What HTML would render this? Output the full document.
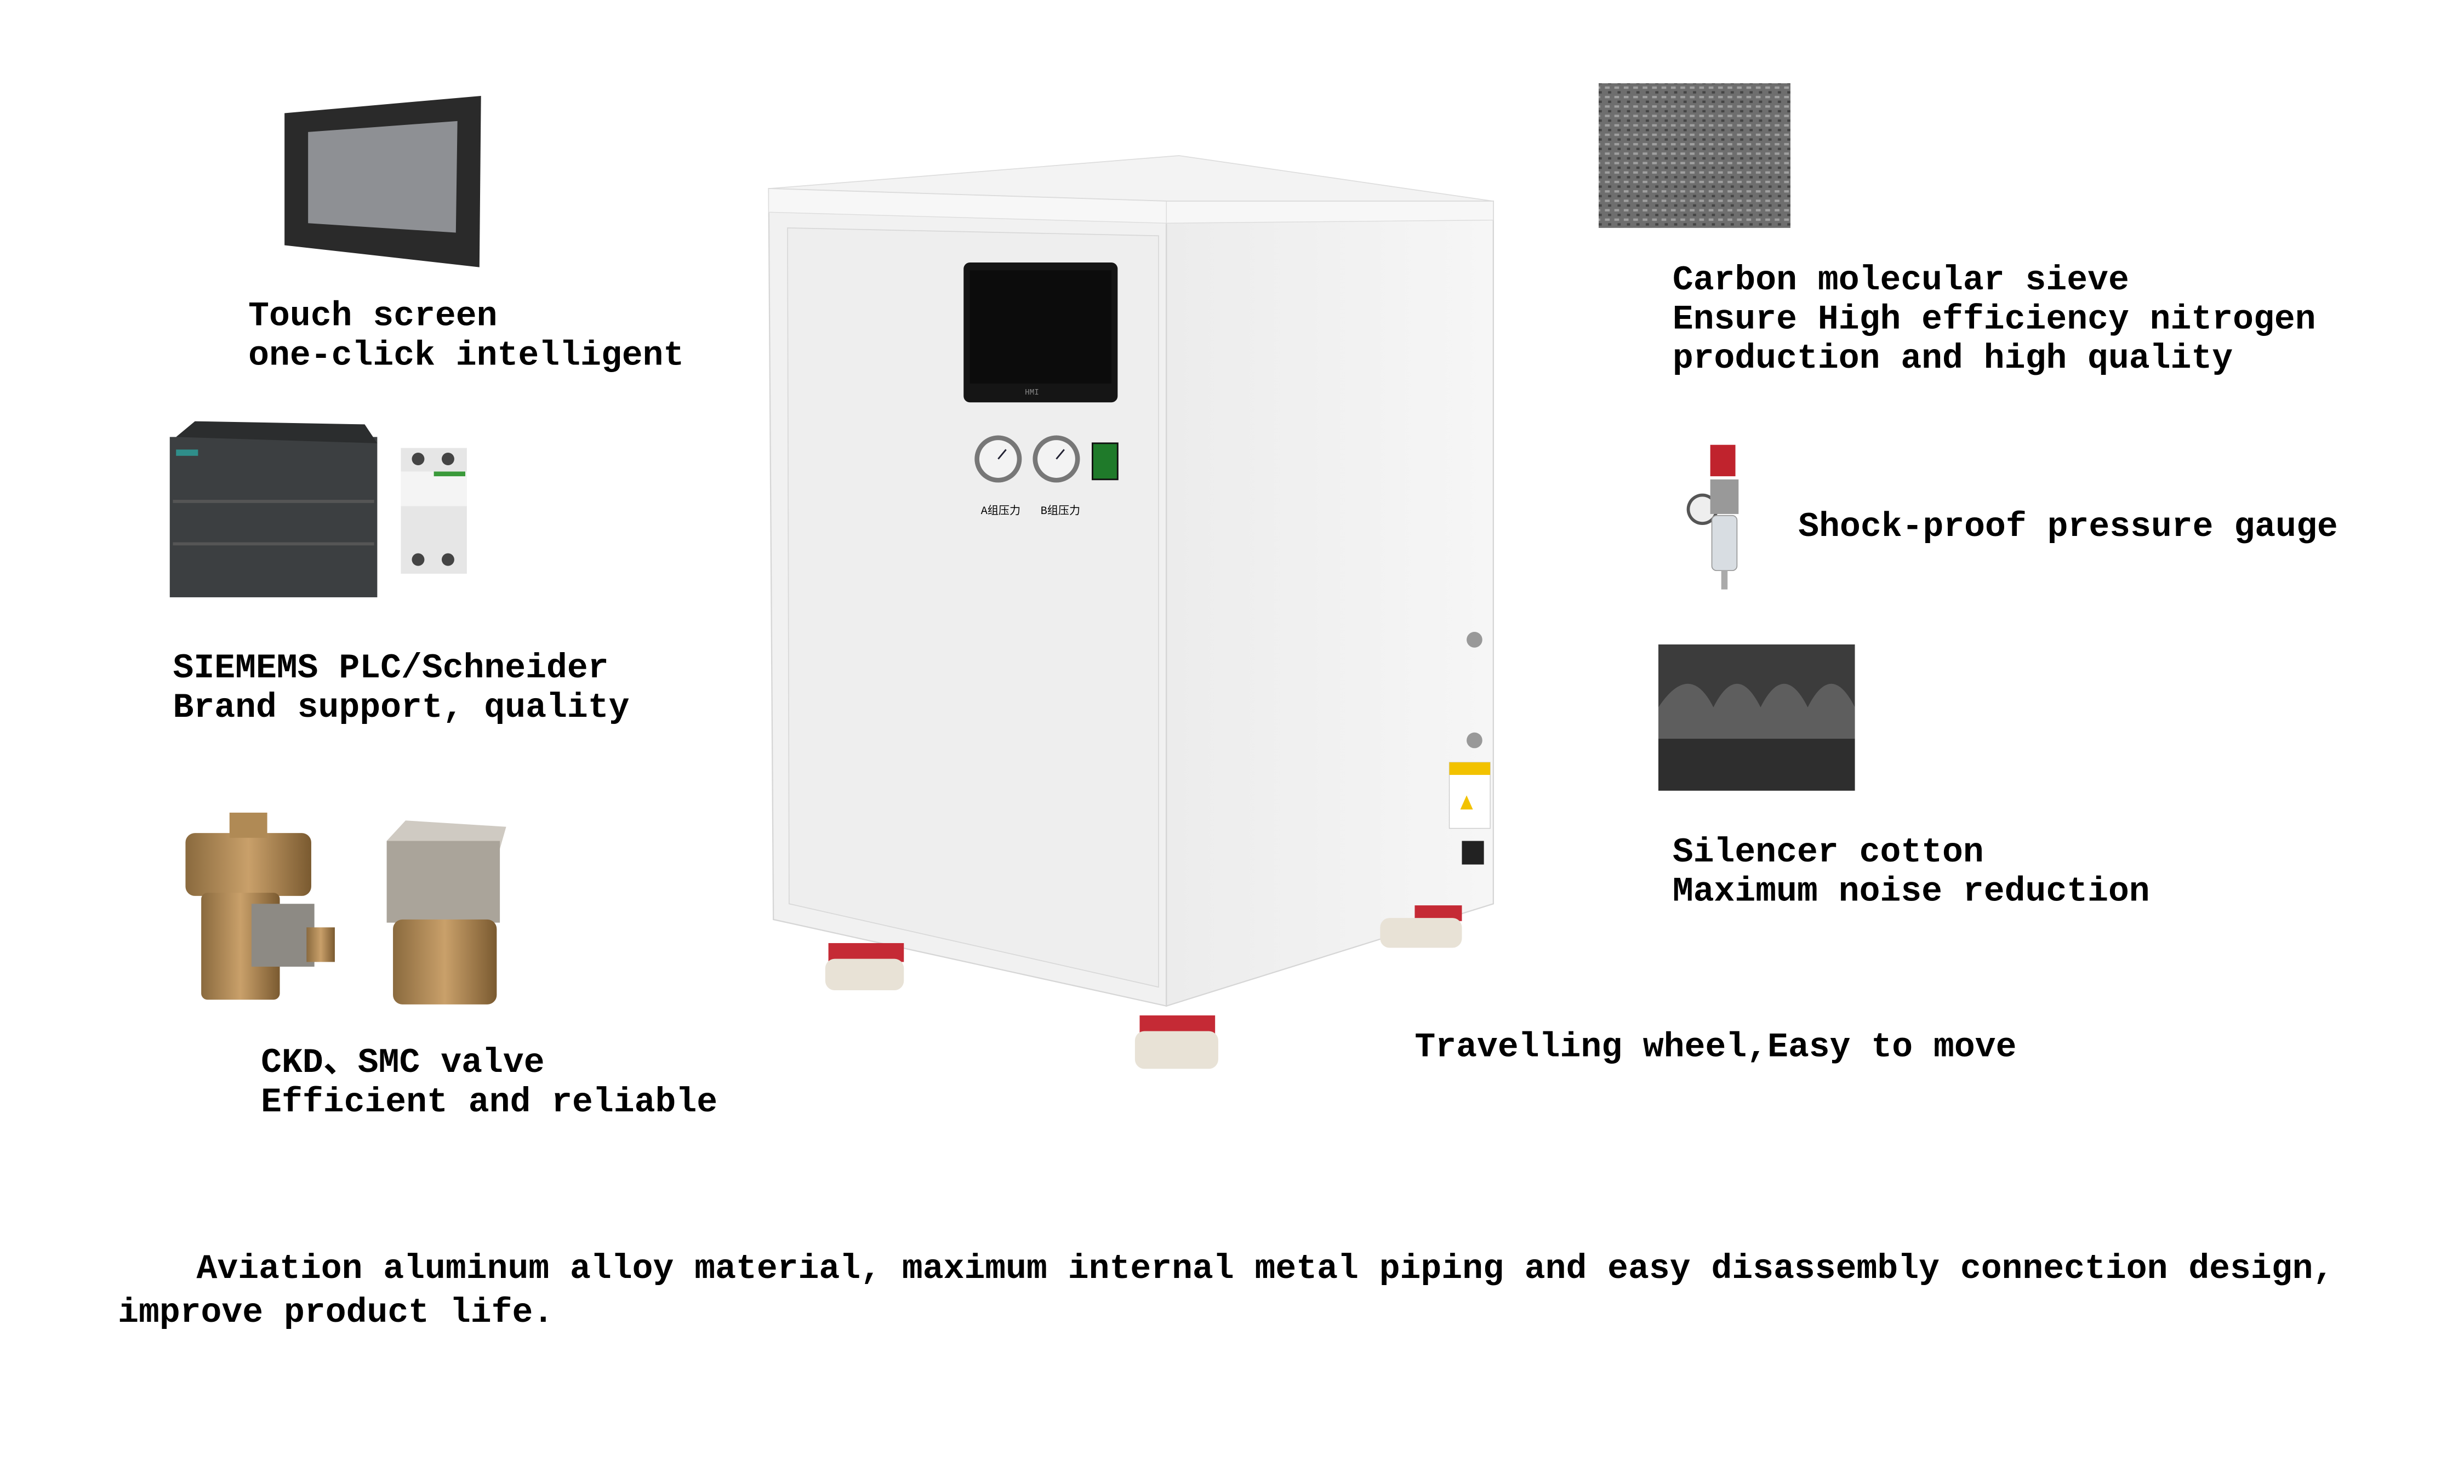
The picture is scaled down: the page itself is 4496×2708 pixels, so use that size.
<!DOCTYPE html>
<html><head><meta charset="utf-8">
<style>
html,body{margin:0;padding:0;background:#fff;}
svg{display:block;}
text{font-family:"Liberation Mono","Noto Sans CJK SC",monospace;font-weight:bold;fill:#000;}
</style></head>
<body>
<svg width="4496" height="2708" viewBox="0 0 1567.5 944.1" preserveAspectRatio="xMinYMin meet" xmlns="http://www.w3.org/2000/svg">
<defs>
<pattern id="carb" width="6" height="6" patternUnits="userSpaceOnUse">
<rect width="6" height="6" fill="#6e6e6e"/><rect x="1" y="1" width="3" height="1.5" fill="#a0a0a0"/><rect x="3" y="4" width="2" height="1.5" fill="#444"/>
</pattern>
<linearGradient id="side" x1="0" x2="1"><stop offset="0" stop-color="#ececec"/><stop offset="1" stop-color="#f6f6f6"/></linearGradient>
<linearGradient id="bronze" x1="0" x2="1"><stop offset="0" stop-color="#8a6a3e"/><stop offset=".5" stop-color="#c9a06a"/><stop offset="1" stop-color="#7a5a30"/></linearGradient>
</defs>
<rect width="1567.5" height="944.1" fill="#fff"/>

<polygon points="181,72 306,61 305,170 181,156" fill="#2a2a2a"/>
<polygon points="196,84 291,77 290,148 196,142" fill="#8e9094"/>

<rect x="108" y="278" width="132" height="102" fill="#3c3f41"/>
<polygon points="112,278 124,268 232,270 240,282" fill="#2b2d2e"/>
<rect x="112" y="286" width="14" height="4" fill="#2f8e8a"/>
<rect x="110" y="318" width="128" height="2" fill="#555"/>
<rect x="110" y="345" width="128" height="2" fill="#555"/>
<rect x="255" y="285" width="42" height="80" fill="#e6e6e6"/>
<rect x="255" y="300" width="42" height="22" fill="#f4f4f4"/>
<rect x="276" y="300" width="20" height="3" fill="#3a9a3a"/>
<circle cx="266" cy="292" r="4" fill="#444"/><circle cx="285" cy="292" r="4" fill="#444"/>
<circle cx="266" cy="356" r="4" fill="#444"/><circle cx="285" cy="356" r="4" fill="#444"/>

<rect x="118" y="530" width="80" height="40" rx="6" fill="url(#bronze)"/>
<rect x="146" y="517" width="24" height="16" fill="#b08a55"/>
<rect x="128" y="568" width="50" height="68" rx="4" fill="url(#bronze)"/>
<rect x="160" y="575" width="40" height="40" fill="#8d8a84"/>
<rect x="195" y="590" width="18" height="22" fill="url(#bronze)"/>
<polygon points="246,535 258,522 322,526 318,540" fill="#cfcac2"/>
<rect x="246" y="535" width="72" height="52" fill="#aaa49a"/>
<rect x="250" y="585" width="66" height="54" rx="6" fill="url(#bronze)"/>

<polygon points="489,120 750,99 950,128 742,128" fill="#f3f3f3" stroke="#ddd" stroke-width="0.6"/>
<polygon points="489,120 742,128 742,640 492,585" fill="#f1f1f1" stroke="#d6d6d6" stroke-width="0.8"/>
<polygon points="742,128 950,128 950,575 742,640" fill="url(#side)" stroke="#d6d6d6" stroke-width="0.8"/>
<polygon points="742,128 950,128 950,140 742,142" fill="#f7f7f7" stroke="#ddd" stroke-width="0.5"/>
<polygon points="489,120 742,128 742,142 489,135" fill="#f7f7f7" stroke="#ddd" stroke-width="0.5"/>
<polygon points="501,145 737,150 737,628 502,575" fill="#eeeeee" stroke="#d8d8d8" stroke-width="0.6"/>
<rect x="613" y="167" width="98" height="89" rx="4" fill="#151515"/>
<rect x="617" y="172" width="90" height="72" fill="#0c0c0c"/>
<text x="652" y="251" style="font-size:5;fill:#888;font-weight:normal">HMI</text>
<circle cx="635" cy="292" r="15" fill="#777"/><circle cx="635" cy="292" r="12" fill="#f3f3f3"/>
<circle cx="672" cy="292" r="15" fill="#777"/><circle cx="672" cy="292" r="12" fill="#f3f3f3"/>
<line x1="635" y1="292" x2="640" y2="286" stroke="#223" stroke-width="1"/>
<line x1="672" y1="292" x2="677" y2="286" stroke="#223" stroke-width="1"/>
<rect x="695" y="282" width="16" height="23" fill="#1f7a2a" stroke="#111" stroke-width="1"/>
<text x="624" y="327" style="font-size:7;font-weight:normal">A组压力</text>
<text x="662" y="327" style="font-size:7;font-weight:normal">B组压力</text>
<circle cx="938" cy="407" r="5" fill="#999"/><circle cx="938" cy="471" r="5" fill="#999"/>
<rect x="922" y="485" width="26" height="42" fill="#fff" stroke="#ccc" stroke-width="0.5"/>
<rect x="922" y="485" width="26" height="8" fill="#f2c200"/>
<polygon points="929,515 933,506 937,515" fill="#f2c200"/>
<rect x="930" y="535" width="14" height="15" fill="#222"/>
<g>
<rect x="527" y="600" width="48" height="12" fill="#c52a35"/><rect x="525" y="610" width="50" height="20" rx="6" fill="#e8e2d6"/>
<rect x="725" y="646" width="48" height="12" fill="#c52a35"/><rect x="722" y="656" width="53" height="24" rx="6" fill="#e8e2d6"/>
<rect x="900" y="576" width="30" height="10" fill="#c52a35"/><rect x="878" y="584" width="52" height="19" rx="6" fill="#e8e2d6"/>
</g>

<rect x="1017" y="53" width="122" height="92" fill="url(#carb)"/>
<rect x="1088" y="283" width="16" height="20" fill="#c0232d"/>
<circle cx="1083" cy="324" r="10" fill="#555"/><circle cx="1083" cy="324" r="8" fill="#eee"/>
<rect x="1088" y="305" width="18" height="22" fill="#999"/>
<rect x="1089" y="328" width="16" height="35" rx="3" fill="#d8dde2" stroke="#999" stroke-width="0.6"/>
<rect x="1095" y="363" width="4" height="12" fill="#aaa"/>
<rect x="1055" y="410" width="125" height="93" fill="#3c3c3c"/>
<path d="M1055,450 Q1075,420 1090,450 Q1105,420 1120,450 Q1135,420 1150,450 Q1165,420 1180,450 L1180,470 L1055,470 Z" fill="#5e5e5e"/>
<rect x="1055" y="470" width="125" height="33" fill="#2e2e2e"/>

<g style="font-size:22px">
<text x="158" y="207">Touch screen</text>
<text x="158" y="232">one-click intelligent</text>
<text x="110" y="431">SIEMEMS PLC/Schneider</text>
<text x="110" y="456">Brand support, quality</text>
<text x="166" y="682">CKD、SMC valve</text>
<text x="166" y="707">Efficient and reliable</text>
<text x="1064" y="184">Carbon molecular sieve</text>
<text x="1064" y="209">Ensure High efficiency nitrogen</text>
<text x="1064" y="234">production and high quality</text>
<text x="1144" y="341">Shock-proof pressure gauge</text>
<text x="1064" y="548">Silencer cotton</text>
<text x="1064" y="573">Maximum noise reduction</text>
<text x="900" y="672">Travelling wheel,Easy to move</text>
<text x="125" y="813">Aviation aluminum alloy material, maximum internal metal piping and easy disassembly connection design,</text>
<text x="75" y="841">improve product life.</text>
</g>
</svg>
</body></html>
